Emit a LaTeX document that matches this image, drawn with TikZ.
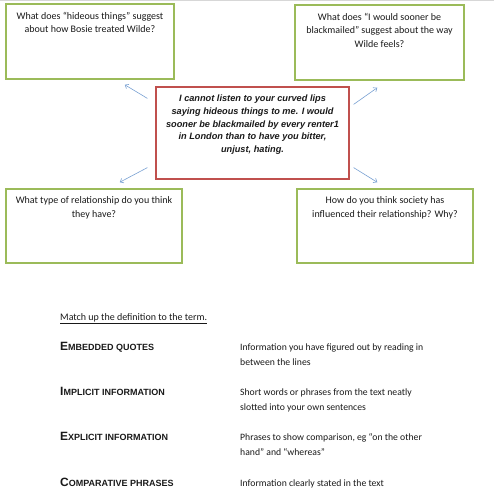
\documentclass[tikz,border=0pt]{standalone}
\usepackage{fontspec}
\setmainfont{Carlito}
\newfontfamily\arialfont{Liberation Sans}
\usetikzlibrary{arrows.meta}
\definecolor{boxgreen}{RGB}{155, 187, 89}
\definecolor{boxred}{RGB}{192, 80, 77}
\definecolor{arrowblue}{RGB}{120, 160, 210}
\definecolor{lgray}{RGB}{215, 215, 215}
\definecolor{textgray}{RGB}{25, 25, 25}
\newcommand{\qtext}[3]{\parbox[c][#2][t]{#1}{\centering\vspace*{4pt}#3}}
\newcommand{\termtext}[2]{{\fontsize{12}{14}\selectfont #1}{\fontsize{9}{11}\selectfont #2}}

\begin{document}
\begin{tikzpicture}[x = 1pt, y = -1pt,
		qbox/.style = {draw = boxgreen, line width = 1.5pt, inner sep = 4pt, text = textgray, font = \fontsize{10}{13.6}\selectfont},
		cbox/.style = {draw = boxred, line width = 1.2pt, inner sep = 4pt, text = textgray, font = \arialfont\bfseries\itshape\fontsize{9.2}{12.7}\selectfont},
		arr/.style = {draw = arrowblue, line width = 0.6pt, -{Straight Barb[length = 3pt, width = 5pt]}},
		term/.style = {anchor = base west, inner sep = 0pt, text = textgray, font = \arialfont\bfseries},
		defn/.style = {anchor = base west, inner sep = 0pt, text = textgray, font = \fontsize{9.7}{15}\selectfont}]
			\useasboundingbox (0,0) rectangle (494,500);
			\fill[lgray] (0,0) rectangle (494,1.5);
			\node (q1) at (90,41.5) [qbox] {\qtext{160pt}{67pt}{What does “hideous things” suggest\\ about how Bosie treated Wilde?}};
			\node (q2) at (379.5,42.5) [qbox] {\qtext{161pt}{67pt}{What does “I would sooner be\\ blackmailed” suggest about the way\\ Wilde feels?}};
			\node (c) at (252.5,133) [cbox] {\qtext{185pt}{84pt}{I cannot listen to your curved lips\\ saying hideous things to me. I would\\ sooner be blackmailed by every renter1\\ in London than to have you bitter,\\ unjust, hating.}};
			\node (q3) at (94,226) [qbox] {\qtext{168pt}{66pt}{What type of relationship do you think\\ they have?}};
			\node (q4) at (385,226) [qbox] {\qtext{168pt}{66pt}{How do you think society has\\ influenced their relationship? Why?}};
			\draw[arr] ([xshift = -8pt, yshift = -12pt]c.north west) -- ([xshift = -50pt, yshift = -5pt]q1.south east);
			\draw[arr] ([xshift = 4pt, yshift = -18pt]c.north east) -- ([xshift = 83pt, yshift = -7pt]q2.south west);
			\draw[arr] ([xshift = -8pt, yshift = 12pt]c.south west) -- ([xshift = -63pt, yshift = 6pt]q3.north east);
			\draw[arr] ([xshift = 4pt, yshift = 12pt]c.south east) -- ([xshift = 81pt, yshift = 6pt]q4.north west);
			% matching exercise
			\node (m) at (60,320) [defn, font = \fontsize{10}{12}\selectfont] {\underline{Match up the definition to the term.}};
			\node (t1) at (60,350.5) [term] {\termtext{E}{MBEDDED QUOTES}};
			\node (t2) at (60,395.5) [term] {\termtext{I}{MPLICIT INFORMATION}};
			\node (t3) at (60,440.5) [term] {\termtext{E}{XPLICIT INFORMATION}};
			\node (t4) at (60,486.5) [term] {\termtext{C}{OMPARATIVE PHRASES}};
			\node (d1) at (240,350.5) [defn] {\parbox[t]{230pt}{\raggedright Information you have figured out by reading in\\ between the lines}};
			\node (d2) at (240,395.5) [defn] {\parbox[t]{230pt}{\raggedright Short words or phrases from the text neatly\\ slotted into your own sentences}};
			\node (d3) at (240,440.5) [defn] {\parbox[t]{230pt}{\raggedright Phrases to show comparison, eg “on the other\\ hand” and “whereas”}};
			\node (d4) at (240,486.5) [defn] {\parbox[t]{230pt}{\raggedright Information clearly stated in the text}};
			\end{tikzpicture}
\end{document}
